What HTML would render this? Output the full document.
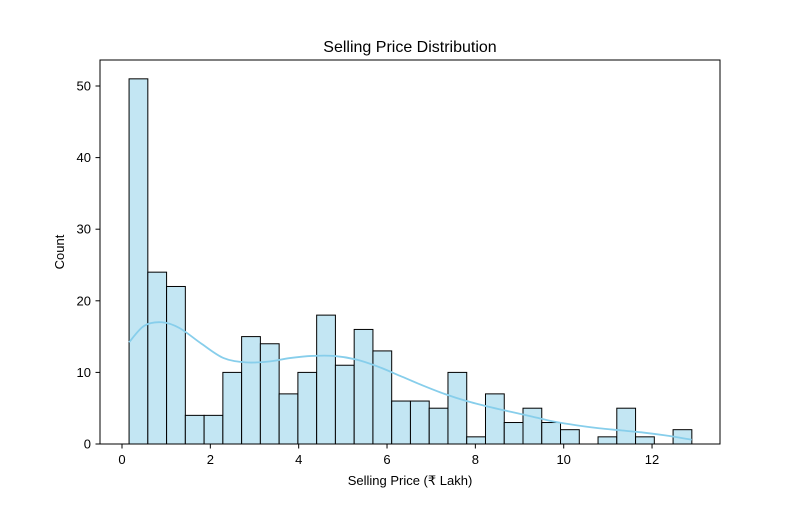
<!DOCTYPE html>
<html><head><meta charset="utf-8"><style>
body{margin:0;background:#fff}
svg{font-family:"Liberation Sans","DejaVu Sans",sans-serif}
</style></head><body>
<svg id="chart" width="800" height="500" xmlns="http://www.w3.org/2000/svg">
<rect width="800" height="500" fill="#fff"/>
<text x="410" y="52" text-anchor="middle" font-size="16">Selling Price Distribution</text>
<g id="bars"></g>
<g id="kde"></g>
<rect x="100" y="60" width="620" height="384" fill="none" stroke="#000" stroke-width="1"/>
<g id="xt"></g>
<g id="yt"></g>
<text x="410" y="485" text-anchor="middle" font-size="13">Selling Price (₹ Lakh)</text>
<text x="64" y="252" text-anchor="middle" font-size="13" transform="rotate(-90 64 252)">Count</text>
</svg>
<script>
const binStart = 0.16;
const binWidth = 0.4247;
const counts = [51,24,22,4,4,10,15,14,7,10,18,11,16,13,6,6,5,10,1,7,3,5,3,2,0,1,5,1,0,2];
const kdeX = [0.16,0.5,0.9,1.3,1.8,2.3,2.8,3.3,3.8,4.3,4.8,5.3,5.8,6.3,6.8,7.3,7.8,8.3,8.8,9.3,9.8,10.3,10.8,11.3,11.8,12.3,12.9];
const kdeY = [14.2,16.5,17.0,16.2,14.0,12.0,11.4,11.5,12.0,12.3,12.3,11.8,10.8,9.5,8.2,7.0,6.0,5.2,4.5,3.8,3.1,2.6,2.2,1.9,1.6,1.2,0.6];
const xTicks = [0,2,4,6,8,10,12];
const yTicks = [0,10,20,30,40,50];
const xs = v => 122 + v*44.17;
const ys = v => 444 - v*7.16;
const NS = "http://www.w3.org/2000/svg";
function mk(t, attrs, parent){const e=document.createElementNS(NS,t);for(const k in attrs)e.setAttribute(k,attrs[k]);parent.appendChild(e);return e;}
const bars=document.getElementById('bars');
counts.forEach((c,i)=>{
  const x0=xs(binStart+i*binWidth), x1=xs(binStart+(i+1)*binWidth);
  if(c===0) return;
  const r=mk('rect',{x:x0,y:ys(c),width:x1-x0,height:ys(0)-ys(c),fill:'#c3e6f3',stroke:'#000','stroke-width':1},bars);
  
  
});
const kde=document.getElementById('kde');
const pts=kdeX.map((x,i)=>[xs(x),ys(kdeY[i])]);
let d='M'+pts[0][0]+','+pts[0][1];
for(let i=0;i<pts.length-1;i++){
  const p0=pts[Math.max(0,i-1)],p1=pts[i],p2=pts[i+1],p3=pts[Math.min(pts.length-1,i+2)];
  const c1=[p1[0]+(p2[0]-p0[0])/6,p1[1]+(p2[1]-p0[1])/6];
  const c2=[p2[0]-(p3[0]-p1[0])/6,p2[1]-(p3[1]-p1[1])/6];
  d+=' C'+c1[0]+','+c1[1]+' '+c2[0]+','+c2[1]+' '+p2[0]+','+p2[1];
}
const p=mk('path',{d:d,fill:'none',stroke:'#87ceeb','stroke-width':1.8},kde);


const xt=document.getElementById('xt');
xTicks.forEach(v=>{
  const l=mk('line',{x1:xs(v),x2:xs(v),y1:444,y2:448.5,stroke:'#000'},xt);
  
  
  const t=mk('text',{x:xs(v),y:464,'text-anchor':'middle','font-size':13},xt);t.textContent=v;
  
  
});
const yt=document.getElementById('yt');
yTicks.forEach(v=>{
  const l=mk('line',{x1:95.5,x2:100,y1:ys(v),y2:ys(v),stroke:'#000'},yt);
  
  
  const t=mk('text',{x:91,y:ys(v)+4.5,'text-anchor':'end','font-size':13},yt);t.textContent=v;
  
  
});
</script>
</body></html>
